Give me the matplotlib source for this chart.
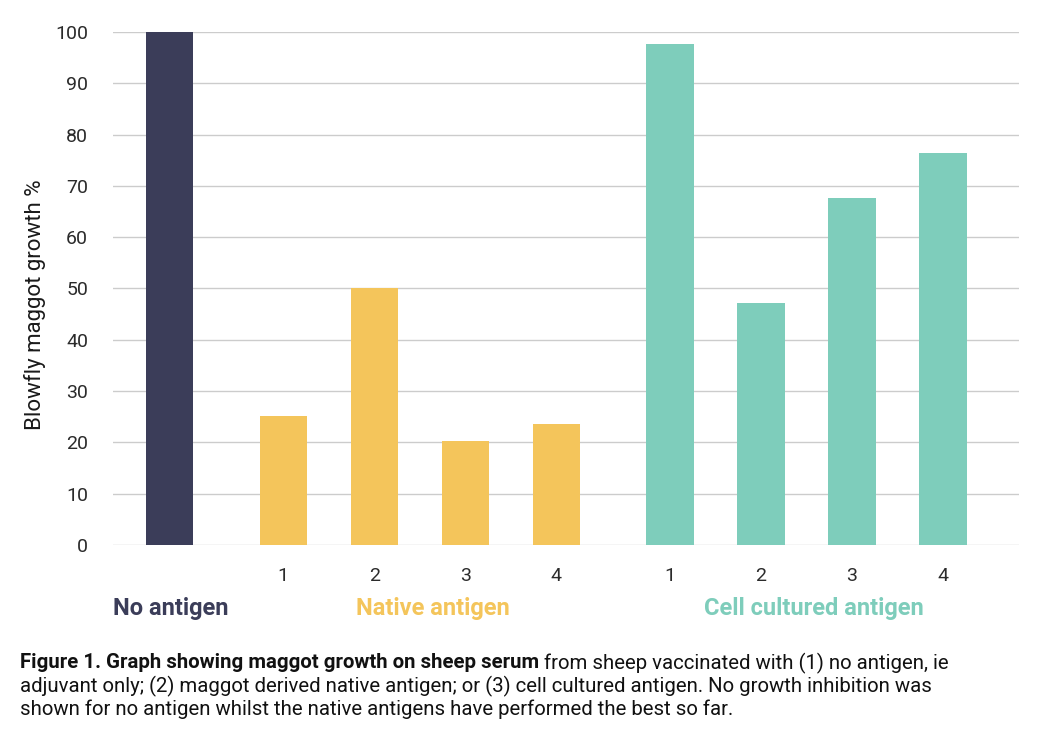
import numpy as np
import matplotlib
matplotlib.use("Agg")
import matplotlib.pyplot as plt

# values (% blowfly maggot growth)
no_antigen = [100]
native = [25.2, 50.0, 20.3, 23.5]
cell_cultured = [97.7, 47.1, 67.6, 76.4]
sub_labels = ["1", "2", "3", "4"]
group_names = ["No antigen", "Native antigen", "Cell cultured antigen"]
y_ticks = [0, 10, 20, 30, 40, 50, 60, 70, 80, 90, 100]

caption_bold = "Figure 1. Graph showing maggot growth on sheep serum"
caption_rest = [" from sheep vaccinated with (1) no antigen, ie",
                "adjuvant only; (2) maggot derived native antigen; or (3) cell cultured antigen. No growth inhibition was",
                "shown for no antigen whilst the native antigens have performed the best so far."]

navy = "#3b3d59"
yellow = "#f4c55b"
teal = "#7ecdbb"

plt.rcParams['font.family'] = ["Roboto", "DejaVu Sans"]

fig = plt.figure(figsize=(10.52, 7.37), dpi=100)
ax = fig.add_axes([0.1074, 0.2605, 0.8612, 0.6961])

# bar positions: one slot per bar, extra gap between groups
x_no = np.array([0.0])
x_nat = np.arange(len(native)) + 1.25
x_cell = np.arange(len(cell_cultured)) + 5.5
width = 0.52

ax.bar(x_no, no_antigen, width, color=navy, zorder=3)
ax.bar(x_nat, native, width, color=yellow, zorder=3)
ax.bar(x_cell, cell_cultured, width, color=teal, zorder=3)

ax.set_ylim(0, 100)
ax.set_xlim(-0.62, 9.335)
ax.set_yticks(y_ticks)
ax.yaxis.grid(True, color="#cccccc", linewidth=1.0, zorder=0)
for s in ax.spines.values():
    s.set_visible(False)
ax.tick_params(axis='both', length=0, labelsize=14, labelcolor="#2b2b2b")
ax.tick_params(axis='y', pad=18)
ax.tick_params(axis='x', pad=16)

ax.set_xticks(np.concatenate([x_nat, x_cell]))
ax.set_xticklabels(sub_labels + sub_labels)

ax.set_ylabel("Blowfly maggot growth %", fontsize=16, color="#1a1a1a")
ax.yaxis.set_label_coords(-0.074, 0.468)

# group labels under the sub ticks
trans = ax.get_xaxis_transform()
ax.text(-0.62, -0.123, group_names[0], transform=trans, ha='left', va='center',
        fontsize=17, fontweight='bold', color=navy)
ax.text(x_nat.mean() + 0.15, -0.123, group_names[1], transform=trans, ha='center', va='center',
        fontsize=17, fontweight='bold', color=yellow)
ax.text(x_cell.mean() + 0.08, -0.123, group_names[2], transform=trans, ha='center', va='center',
        fontsize=17, fontweight='bold', color=teal)

# caption with a bold lead-in
cap_y = [1 - 663 / 737, 1 - 686 / 737, 1 - 709 / 737]
cap_size = 14.7
t = fig.text(20 / 1052, cap_y[0], caption_bold, fontsize=cap_size, fontweight='bold',
             va='center', color="#111111")
fig.canvas.draw()
bb = t.get_window_extent()
fig.text(bb.x1 / fig.bbox.width, cap_y[0], caption_rest[0], fontsize=cap_size,
         va='center', color="#111111")
for line, y in zip(caption_rest[1:], cap_y[1:]):
    fig.text(20 / 1052, y, line, fontsize=cap_size, va='center', color="#111111")

fig.savefig("out.png", dpi=100)
